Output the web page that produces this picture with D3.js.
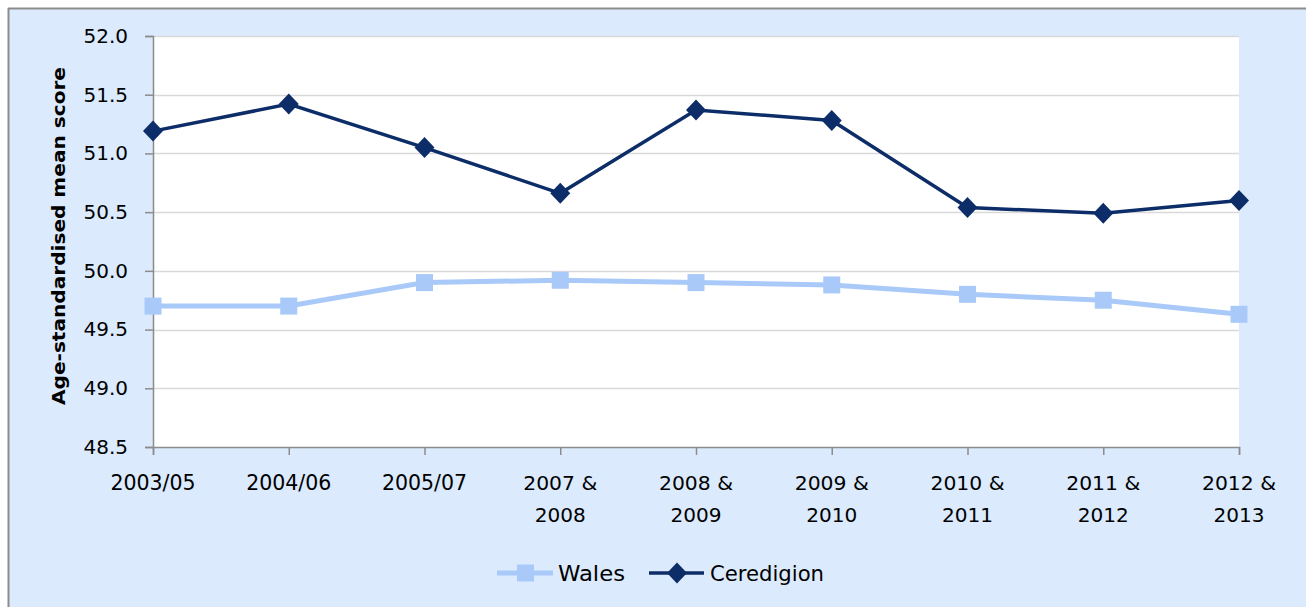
<html>
<head>
<script src="https://d3js.org/d3.v7.min.js"></script>
<style>
body { margin: 0; background: #fff; }
svg text { fill: #000; }
</style>
</head>
<body>
<svg width="1306" height="607"></svg>
<script>

var periods = ["2003/05", "2004/06", "2005/07", "2007 & 2008", "2008 & 2009",
               "2009 & 2010", "2010 & 2011", "2011 & 2012", "2012 & 2013"];
var wales = [49.70, 49.70, 49.90, 49.92, 49.90, 49.88, 49.80, 49.75, 49.63];
var ceredigion = [51.19, 51.42, 51.05, 50.66, 51.37, 51.28, 50.54, 50.49, 50.60];
var yTicks = [48.5, 49.0, 49.5, 50.0, 50.5, 51.0, 51.5, 52.0];

var svg = d3.select("svg");

// chart area background
svg.append("rect").attr("x", 8).attr("y", 8).attr("width", 1298).attr("height", 599)
  .attr("fill", "#dbeafd");
svg.append("line").attr("x1", 8.5).attr("x2", 8.5).attr("y1", 8).attr("y2", 607)
  .attr("stroke", "#8c8c8c").attr("stroke-width", 2);
svg.append("line").attr("x1", 8).attr("x2", 1306).attr("y1", 8.5).attr("y2", 8.5)
  .attr("stroke", "#8c8c8c").attr("stroke-width", 2);

var plotLeft = 153, plotRight = 1239, plotTop = 36, plotBottom = 447;

var x = d3.scalePoint().domain(periods).range([plotLeft, plotRight]);
var y = d3.scaleLinear().domain([48.5, 52.0]).range([plotBottom, plotTop]);

svg.append("rect").attr("x", plotLeft).attr("y", plotTop)
  .attr("width", plotRight - plotLeft).attr("height", plotBottom - plotTop).attr("fill", "#fff");

// gridlines
svg.selectAll("line.grid").data(yTicks.slice(1)).enter().append("line")
  .attr("class", "grid")
  .attr("x1", plotLeft).attr("x2", plotRight)
  .attr("y1", function (d) { return Math.round(y(d)) + 0.5; })
  .attr("y2", function (d) { return Math.round(y(d)) + 0.5; })
  .attr("stroke", "#d9d9d9").attr("stroke-width", 1.5);

// y axis
var yAxis = svg.append("g").attr("transform", "translate(" + plotLeft + ",0)")
  .call(d3.axisLeft(y).tickValues(yTicks).tickFormat(d3.format(".1f")).tickSize(8).tickPadding(17));
yAxis.selectAll("path, line").attr("stroke", "#8c8c8c").attr("stroke-width", 1.5);
yAxis.selectAll("text").attr("font-family", "DejaVu Sans, Verdana, sans-serif")
  .attr("font-size", 20).attr("fill", "#000");

// x axis
var xAxis = svg.append("g").attr("transform", "translate(0," + plotBottom + ")")
  .call(d3.axisBottom(x).tickSize(8).tickFormat(""));
xAxis.selectAll("path, line").attr("stroke", "#8c8c8c").attr("stroke-width", 1.5);

svg.selectAll("text.xlab").data(periods).enter().append("text")
  .attr("class", "xlab")
  .attr("text-anchor", "middle")
  .attr("x", function (d) { return x(d); })
  .attr("y", 490)
  .attr("font-family", function (d) {
    return d.indexOf("&") >= 0 ? "DejaVu Sans Condensed, sans-serif" : "DejaVu Sans, Verdana, sans-serif";
  })
  .attr("font-size", function (d) { return d.indexOf("&") >= 0 ? 20 : 20.5; })
  .each(function (d) {
    var parts = d.indexOf("&") >= 0 ? [d.split(" & ")[0] + " &", d.split(" & ")[1]] : [d];
    var t = d3.select(this);
    parts.forEach(function (p, i) {
      var ts = t.append("tspan").attr("x", x(d)).attr("dy", i === 0 ? 0 : 32).text(p);
      if (parts.length > 1) ts.attr("textLength", i === 0 ? 74 : 51).attr("lengthAdjust", "spacingAndGlyphs");
    });
  });

// y title
svg.append("text")
  .attr("transform", "translate(65,236) rotate(-90)")
  .attr("text-anchor", "middle")
  .attr("font-family", "DejaVu Sans Condensed, DejaVu Sans, sans-serif")
  .attr("font-weight", "bold").attr("font-size", 18)
  .attr("textLength", 338).attr("lengthAdjust", "spacingAndGlyphs")
  .text("Age-standardised  mean score");

var line = d3.line().x(function (d, i) { return x(periods[i]); }).y(function (d) { return y(d); });

svg.append("path").datum(wales).attr("d", line)
  .attr("fill", "none").attr("stroke", "#a9c9f9").attr("stroke-width", 5);
svg.selectAll("rect.wales").data(wales).enter().append("rect")
  .attr("class", "wales")
  .attr("x", function (d, i) { return x(periods[i]) - 8.5; })
  .attr("y", function (d) { return y(d) - 8.5; })
  .attr("width", 17).attr("height", 17).attr("fill", "#a9c9f9");

svg.append("path").datum(ceredigion).attr("d", line)
  .attr("fill", "none").attr("stroke", "#0d2d68").attr("stroke-width", 3.5);
var diamond = "M0,-10.5L10,0L0,10.5L-10,0Z";
svg.selectAll("path.cer").data(ceredigion).enter().append("path")
  .attr("class", "cer")
  .attr("d", diamond)
  .attr("transform", function (d, i) { return "translate(" + x(periods[i]) + "," + y(d) + ")"; })
  .attr("fill", "#0d2d68");

// legend
var ly = 573;
svg.append("line").attr("x1", 497).attr("x2", 553).attr("y1", ly).attr("y2", ly)
  .attr("stroke", "#a9c9f9").attr("stroke-width", 5);
svg.append("rect").attr("x", 517).attr("y", ly - 8.5).attr("width", 17).attr("height", 17).attr("fill", "#a9c9f9");
svg.append("text").attr("x", 558).attr("y", ly + 8)
  .attr("font-family", "DejaVu Sans Condensed, sans-serif").attr("font-size", 22)
  .attr("textLength", 67).attr("lengthAdjust", "spacingAndGlyphs").text("Wales");
svg.append("line").attr("x1", 649).attr("x2", 704).attr("y1", ly).attr("y2", ly)
  .attr("stroke", "#0d2d68").attr("stroke-width", 3.5);
svg.append("path").attr("d", diamond).attr("transform", "translate(677," + ly + ")").attr("fill", "#0d2d68");
svg.append("text").attr("x", 710).attr("y", ly + 8)
  .attr("font-family", "DejaVu Sans Condensed, sans-serif").attr("font-size", 22)
  .attr("textLength", 114).attr("lengthAdjust", "spacingAndGlyphs").text("Ceredigion");

</script>
</body>
</html>
